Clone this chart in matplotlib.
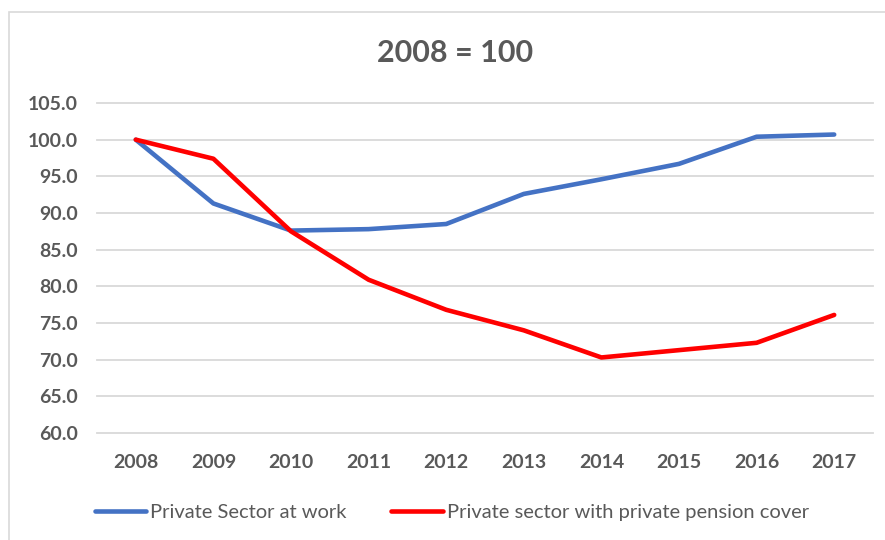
import matplotlib.pyplot as plt
from matplotlib.patches import Rectangle

years = ['2008', '2009', '2010', '2011', '2012', '2013', '2014', '2015', '2016', '2017']
at_work = [100.0, 91.3, 87.6, 87.8, 88.5, 92.6, 94.6, 96.7, 100.4, 100.7]
pension_cover = [100.0, 97.4, 87.5, 80.9, 76.8, 74.0, 70.3, 71.3, 72.3, 76.1]
series_names = ['Private Sector at work', 'Private sector with private pension cover']
yticks = [60, 65, 70, 75, 80, 85, 90, 95, 100, 105]

grey = '#595959'
plt.rcParams['font.family'] = ['Lato', 'DejaVu Sans']

W, H = 885, 540
fig = plt.figure(figsize=(W / 100, H / 100), dpi=100)

# chart area outline (only top and left edges fall inside the image)
fig.patches.append(Rectangle((9 / W, -0.1), 1.2, 1 - 12 / H + 0.1, transform=fig.transFigure,
                             fill=False, edgecolor='#d9d9d9', linewidth=1.2))

ax = fig.add_axes([97 / W, 1 - 433 / H, (873 - 97) / W, (433 - 103) / H])
x = range(len(years))
ax.plot(x, at_work, color='#4472c4', lw=3.3, solid_capstyle='round', solid_joinstyle='round',
        label=series_names[0], zorder=3)
ax.plot(x, pension_cover, color='#ff0000', lw=3.3, solid_capstyle='round', solid_joinstyle='round',
        label=series_names[1], zorder=4)

ax.set_xlim(-0.5, len(years) - 0.5)
ax.set_ylim(60, 105)
ax.set_yticks(yticks)
ax.set_yticklabels([f'{v:.1f}' for v in yticks], fontsize=14, fontweight='bold', color=grey)
ax.set_xticks(list(x))
ax.set_xticklabels(years, fontsize=14, fontweight='bold', color=grey)
ax.tick_params(axis='y', length=0, pad=14)
ax.tick_params(axis='x', length=0, pad=15)
ax.grid(axis='y', color='#d9d9d9', lw=1.3)
for gl in ax.get_ygridlines():
    gl.set_clip_on(False)
for s in ax.spines.values():
    s.set_visible(False)

fig.text(455 / W, 1 - 53 / H, '2008 = 100', ha='center', va='center',
         fontsize=22, fontweight='bold', color=grey)

fig.legend(loc='center left', bbox_to_anchor=(95 / W, 1 - 512 / H), ncol=2, frameon=False,
           fontsize=14.5, labelcolor=grey, handlelength=2.55, handletextpad=0.2,
           columnspacing=2.2, borderpad=0, borderaxespad=0)

fig.savefig('out.png', dpi=100)
